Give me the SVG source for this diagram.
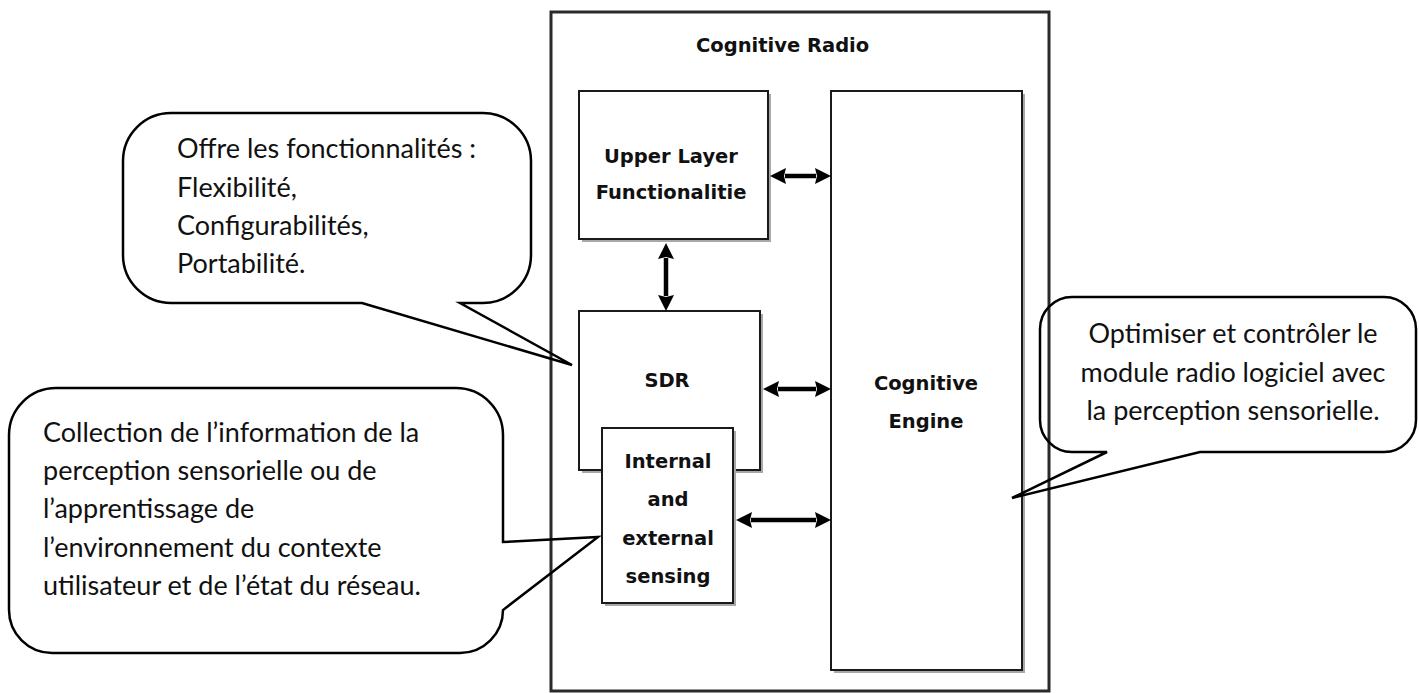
<svg xmlns="http://www.w3.org/2000/svg" width="1419" height="693" viewBox="0 0 1419 693">
<defs>
<style>
.box{fill:#fff;stroke:#1a1a1a;stroke-width:2}
.shadow{fill:#a8a8a8}
.outer{fill:none;stroke:#2a2a2a;stroke-width:3}
.bt{font-family:"DejaVu Sans",Verdana,sans-serif;font-weight:bold;font-size:19.5px;fill:#111;text-anchor:middle}
.ct{font-family:Lato,"Open Sans",sans-serif;font-size:27px;fill:#111}
.callout{fill:none;stroke:#000;stroke-width:2.5;stroke-linejoin:miter}
.conn{stroke:#000;stroke-width:4.5;fill:none}
</style>
<marker id="ah" viewBox="0 -8 16 16" refX="1" refY="0" markerWidth="16" markerHeight="16" markerUnits="userSpaceOnUse" orient="auto-start-reverse">
<path d="M0,-8 L16,0 L0,8 L2,0 Z" fill="#000"/>
</marker>
</defs>
<rect width="1419" height="693" fill="#fff"/>

<g id="cognitive-radio">
<rect class="outer" x="551" y="12" width="498" height="679"/>
<text class="bt" x="696" y="52" style="text-anchor:start">Cognitive Radio</text>
</g>

<g id="upper-layer">
<rect class="shadow" x="582" y="94" width="189" height="148"/>
<rect class="box" x="579" y="91" width="189" height="148"/>
<text class="bt" x="671" y="163">Upper Layer</text>
<text class="bt" x="671" y="199">Functionalitie</text>
</g>

<g id="sdr">
<rect class="shadow" x="582" y="314" width="181" height="159"/>
<rect class="box" x="579" y="311" width="181" height="159"/>
<text class="bt" x="667" y="387">SDR</text>
</g>

<g id="sensing">
<rect class="shadow" x="605" y="431" width="131" height="175"/>
<rect class="box" x="602" y="428" width="131" height="175"/>
<text class="bt" x="668" y="468">Internal</text>
<text class="bt" x="668" y="506">and</text>
<text class="bt" x="668" y="545">external</text>
<text class="bt" x="668" y="583">sensing</text>
</g>

<g id="cognitive-engine">
<rect class="shadow" x="834" y="94" width="191" height="579"/>
<rect class="box" x="831" y="91" width="191" height="579"/>
<text class="bt" x="926" y="390">Cognitive</text>
<text class="bt" x="926" y="428">Engine</text>
</g>

<g id="connectors">
<line class="conn" x1="785" y1="176" x2="816" y2="176" marker-start="url(#ah)" marker-end="url(#ah)"/>
<line class="conn" x1="666" y1="258" x2="666" y2="296" marker-start="url(#ah)" marker-end="url(#ah)"/>
<line class="conn" x1="778" y1="389" x2="816" y2="389" marker-start="url(#ah)" marker-end="url(#ah)"/>
<line class="conn" x1="751" y1="520" x2="816" y2="520" marker-start="url(#ah)" marker-end="url(#ah)"/>
</g>

<g id="callout-sdr">
<path class="callout" d="M171,113 H483 A48 48 0 0 1 531,161 V255 A48 48 0 0 1 483,303 H460 L572,365 L362,303 H171 A48 48 0 0 1 123,255 V161 A48 48 0 0 1 171,113 Z"/>
<text class="ct" x="177" y="158">Offre les fonctionnalités :</text>
<text class="ct" x="177" y="197">Flexibilité,</text>
<text class="ct" x="177" y="235">Configurabilités,</text>
<text class="ct" x="177" y="273">Portabilité.</text>
</g>

<g id="callout-sensing">
<path class="callout" d="M56,388 H456 A47 47 0 0 1 503,435 V542 L598,537 L503,610 A43 43 0 0 1 460,653 H52 A43 43 0 0 1 9,610 V435 A47 47 0 0 1 56,388 Z"/>
<text class="ct" x="43" y="442">Collection de l’information de la</text>
<text class="ct" x="43" y="480">perception sensorielle ou de</text>
<text class="ct" x="43" y="518">l’apprentissage de</text>
<text class="ct" x="43" y="557">l’environnement du contexte</text>
<text class="ct" x="43" y="595">utilisateur et de l’état du réseau.</text>
</g>

<g id="callout-engine">
<path class="callout" d="M1072,297 H1384 A32 32 0 0 1 1416,329 V420 A32 32 0 0 1 1384,452 H1200 L1012,498 L1107,452 H1072 A32 32 0 0 1 1040,420 V329 A32 32 0 0 1 1072,297 Z"/>
<text class="ct" x="1233" y="343" style="text-anchor:middle">Optimiser et contrôler le</text>
<text class="ct" x="1233" y="382" style="text-anchor:middle">module radio logiciel avec</text>
<text class="ct" x="1233" y="420" style="text-anchor:middle">la perception sensorielle.</text>
</g>
</svg>
